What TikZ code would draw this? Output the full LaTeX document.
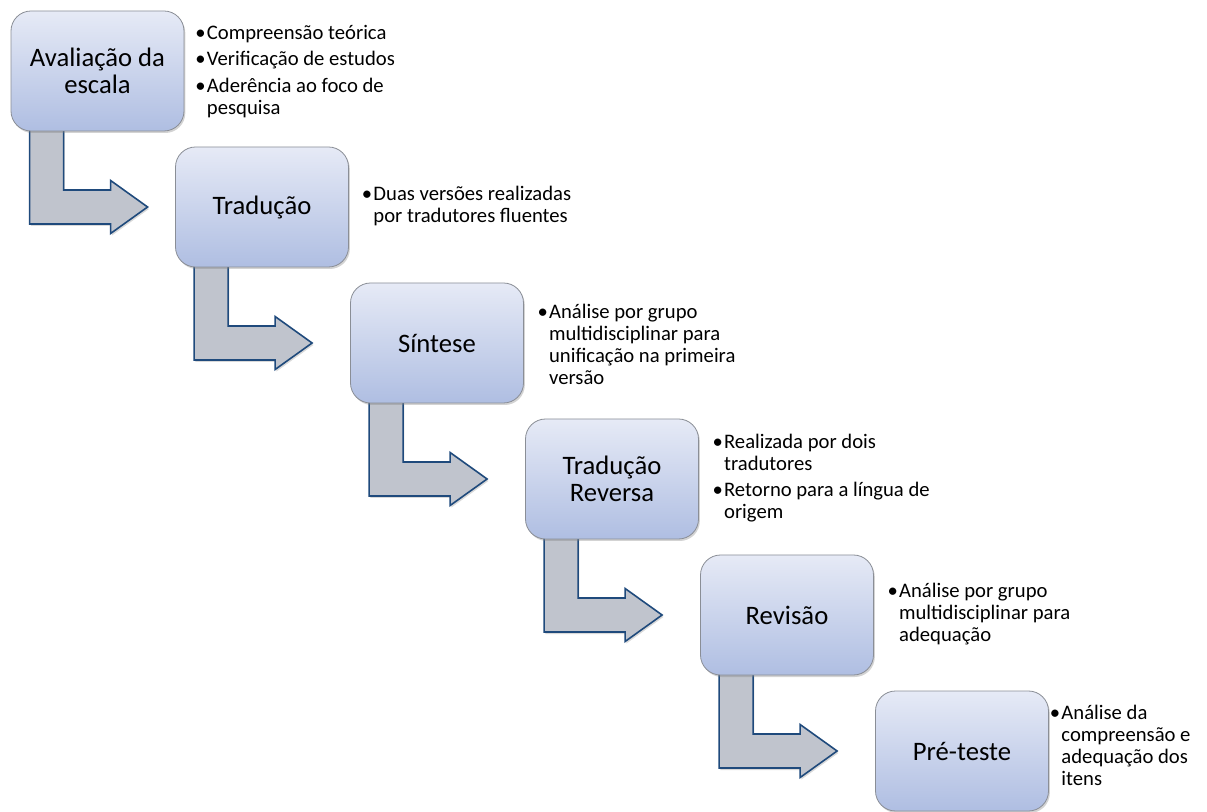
\documentclass[tikz,border=0pt]{standalone}
\usepackage{fontspec}
\setmainfont{Carlito}
\usetikzlibrary{positioning,calc,shadows}
\pgfdeclarelayer{bg}
\pgfsetlayers{bg,main}
\definecolor{boxtop}{HTML}{E6EAF6}
\definecolor{boxbot}{HTML}{AFBEE2}
\definecolor{boxline}{HTML}{8A8E96}
\definecolor{arrfill}{HTML}{C0C4CD}
\definecolor{arrline}{HTML}{1F4A7C}
\tikzset{
  stage/.style={draw=boxline, line width=0.6pt, rounded corners=15pt,
    minimum width=129.75pt, minimum height=90pt, top color=boxtop,
    bottom color=boxbot, align=center,
    font=\fontsize{20}{20.5}\selectfont,
    drop shadow={shadow xshift=1pt, shadow yshift=-1.5pt, opacity=0.35}},
  notes/.style={inner sep=0pt, font=\fontsize{15.5}{16.4}\selectfont},
  bendarrow/.style={draw=arrline, fill=arrfill, line width=1.2pt,
    line join=miter,
    drop shadow={shadow xshift=1pt, shadow yshift=-1.5pt, opacity=0.3}}
}
\newcommand{\bul}{\textbullet}

\begin{document}
\begin{tikzpicture}[x=0.75pt,y=-0.75pt]
\useasboundingbox (0,0) rectangle (1207,812);
% the six steps
\node[stage] (aval) at (97.5,71) {Avaliação da\\escala};
\node[stage] (trad) at (262,207) {Tradução};
\node[stage] (sint) at (437,343) {Síntese};
\node[stage] (trev) at (612,479) {Tradução\\Reversa};
\node[stage] (revi) at (787,615) {Revisão};
\node[stage] (pre) at (962,751) {Pré-teste};
% notes beside each step
\node[notes, right=8pt of aval, yshift=-1pt] (aval-n) {\begin{tabular}{@{}l@{\hspace{1pt}}l@{}}
  \bul & Compreensão teórica\\[3.5pt]
  \bul & Verificação de estudos\\[3.5pt]
  \bul & Aderência ao foco de\\
       & pesquisa
  \end{tabular}};
\node[notes, right=9.5pt of trad] (trad-n) {\begin{tabular}{@{}l@{\hspace{1pt}}l@{}}
  \bul & Duas versões realizadas\\
       & por tradutores fluentes
  \end{tabular}};
\node[notes, right=10pt of sint, yshift=-3pt] (sint-n) {\begin{tabular}{@{}l@{\hspace{1pt}}l@{}}
  \bul & Análise por grupo\\
       & multidisciplinar para\\
       & unificação na primeira\\
       & versão
  \end{tabular}};
\node[notes, right=10pt of trev] (trev-n) {\begin{tabular}{@{}l@{\hspace{1pt}}l@{}}
  \bul & Realizada por dois\\
       & tradutores\\[3pt]
  \bul & Retorno para a língua de\\
       & origem
  \end{tabular}};
\node[notes, right=10pt of revi] (revi-n) {\begin{tabular}{@{}l@{\hspace{1pt}}l@{}}
  \bul & Análise por grupo\\
       & multidisciplinar para\\
       & adequação
  \end{tabular}};
\node[notes, right=0.5pt of pre, yshift=2pt] (pre-n) {\begin{tabular}{@{}l@{\hspace{1pt}}l@{}}
  \bul & Análise da\\
       & compreensão e\\
       & adequação dos\\
       & itens
  \end{tabular}};
% bent arrows, behind the boxes
\begin{pgfonlayer}{bg}
\foreach \s in {aval,trad,sint,trev,revi}
  \draw[bendarrow] ($(\s.west)+(19,0)$) -- ++(0,153) -- ++(81,0)
    -- ++(0,9.5) -- ++(37,-26.5) -- ++(-37,-26.5) -- ++(0,9.5)
    -- ++(-47,0) -- ++(0,-119) -- cycle;
\end{pgfonlayer}
\end{tikzpicture}
\end{document}
